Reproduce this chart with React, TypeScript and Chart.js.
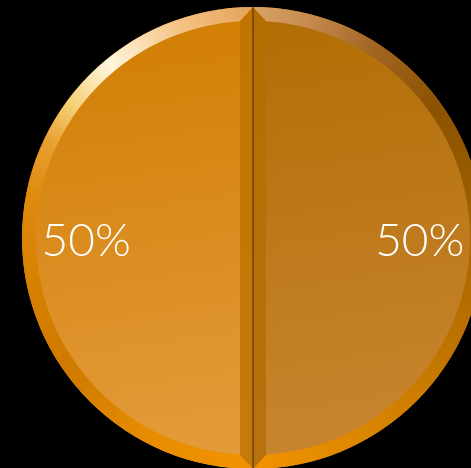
import React, { useEffect, useRef } from "react";
import { Chart, registerables } from "chart.js";

Chart.register(...registerables);

const categories: string[] = ["B", "A"];
const values: number[] = [50, 50];
const labelTexts: string[] = ["50%", "50%"];

const faceTop = ["#B06B00", "#D07C00"];
const faceBottom = ["#C7842E", "#E39B3A"];
const stripTop = ["#B46E00", "#C27400"];
const stripBottom = ["#B8720C", "#C67A0E"];

const RING = 14;
const STRIP = 13;

const bevelPlugin = {
  id: "bevel",
  afterDatasetsDraw(chart: any) {
    const ctx: CanvasRenderingContext2D = chart.ctx;
    const meta = chart.getDatasetMeta(0);
    meta.data.forEach((arc: any, i: number) => {
      const { x, y, outerRadius: R, startAngle: a0, endAngle: a1 } = arc.getProps(
        ["x", "y", "outerRadius", "startAngle", "endAngle"],
        true
      );
      const g = (ctx as any).createConicGradient(0, x, y);
      g.addColorStop(0.0, "#A86500");
      g.addColorStop(0.08, "#BE7300");
      g.addColorStop(0.125, "#CE7D00");
      g.addColorStop(0.2, "#E48C00");
      g.addColorStop(0.25, "#F29200");
      g.addColorStop(0.33, "#E68C00");
      g.addColorStop(0.4, "#CF7A00");
      g.addColorStop(0.47, "#D68100");
      g.addColorStop(0.53, "#DE8A0E");
      g.addColorStop(0.57, "#E8A030");
      g.addColorStop(0.6, "#F6CE74");
      g.addColorStop(0.64, "#FFF6DC");
      g.addColorStop(0.7, "#F4C080");
      g.addColorStop(0.749, "#E3A45C");
      g.addColorStop(0.751, "#D9A264");
      g.addColorStop(0.79, "#C68A50");
      g.addColorStop(0.84, "#A26522");
      g.addColorStop(0.9, "#8A5300");
      g.addColorStop(0.96, "#985C00");
      g.addColorStop(1.0, "#A86500");
      ctx.save();
      ctx.beginPath();
      ctx.arc(x, y, R, a0, a1);
      ctx.arc(x, y, R - RING, a1, a0, true);
      ctx.closePath();
      ctx.fillStyle = g;
      ctx.fill();
      const side = Math.cos((a0 + a1) / 2) >= 0 ? 1 : -1;
      const sg = ctx.createLinearGradient(0, y - R, 0, y + R);
      sg.addColorStop(0, stripTop[i]);
      sg.addColorStop(1, stripBottom[i]);
      ctx.beginPath();
      ctx.moveTo(x, y - R);
      ctx.lineTo(x + side * STRIP, y - R + RING);
      ctx.lineTo(x + side * STRIP, y + R - RING);
      ctx.lineTo(x, y + R);
      ctx.closePath();
      ctx.fillStyle = sg;
      ctx.fill();
      ctx.restore();
    });
    if (meta.data.length) {
      const { x, y, outerRadius: R } = meta.data[0].getProps(["x", "y", "outerRadius"], true);
      ctx.save();
      ctx.strokeStyle = "#5A3200";
      ctx.lineWidth = 1.2;
      ctx.beginPath();
      ctx.moveTo(x, y - R);
      ctx.lineTo(x, y + R);
      ctx.stroke();
      ctx.fillStyle = "#FFFFFF";
      ctx.font = "300 46px Lato, 'Open Sans', sans-serif";
      ctx.textAlign = "center";
      ctx.textBaseline = "middle";
      meta.data.forEach((arc: any, i: number) => {
        const p = arc.getProps(["startAngle", "endAngle"], true);
        const mid = (p.startAngle + p.endAngle) / 2;
        const r = R * 0.722;
        ctx.fillText(labelTexts[i], x + Math.cos(mid) * r, y + Math.sin(mid) * r + 3);
      });
      ctx.restore();
    }
  },
};

export default function App() {
  const ref = useRef<HTMLCanvasElement>(null);
  useEffect(() => {
    document.body.style.margin = "0";
    document.body.style.background = "#000";
    document.body.style.overflow = "hidden";
    const chart = new Chart(ref.current!, {
      type: "pie",
      data: {
        labels: categories,
        datasets: [
          {
            data: values,
            borderWidth: 0,
            hoverOffset: 0,
            backgroundColor: (c: any) => {
              const chartArea = c.chart.chartArea;
              if (!chartArea) return faceTop[c.dataIndex];
              const g = c.chart.ctx.createLinearGradient(
                0,
                chartArea.top,
                chartArea.width * 0.15,
                chartArea.bottom
              );
              g.addColorStop(0, faceTop[c.dataIndex]);
              g.addColorStop(1, faceBottom[c.dataIndex]);
              return g;
            },
          },
        ],
      },
      options: {
        responsive: false,
        animation: false,
        layout: { padding: 0 },
        plugins: { legend: { display: false }, tooltip: { enabled: false } },
      },
      plugins: [bevelPlugin],
    });
    return () => chart.destroy();
  }, []);
  return (
    <div
      style={{
        position: "fixed",
        left: 0,
        top: 0,
        width: 471,
        height: 468,
        background: "#000",
        overflow: "hidden",
      }}
    >
      <canvas
        ref={ref}
        width={462}
        height={462}
        style={{ position: "absolute", left: 22, top: 7, width: 462, height: 462 }}
      />
    </div>
  );
}
